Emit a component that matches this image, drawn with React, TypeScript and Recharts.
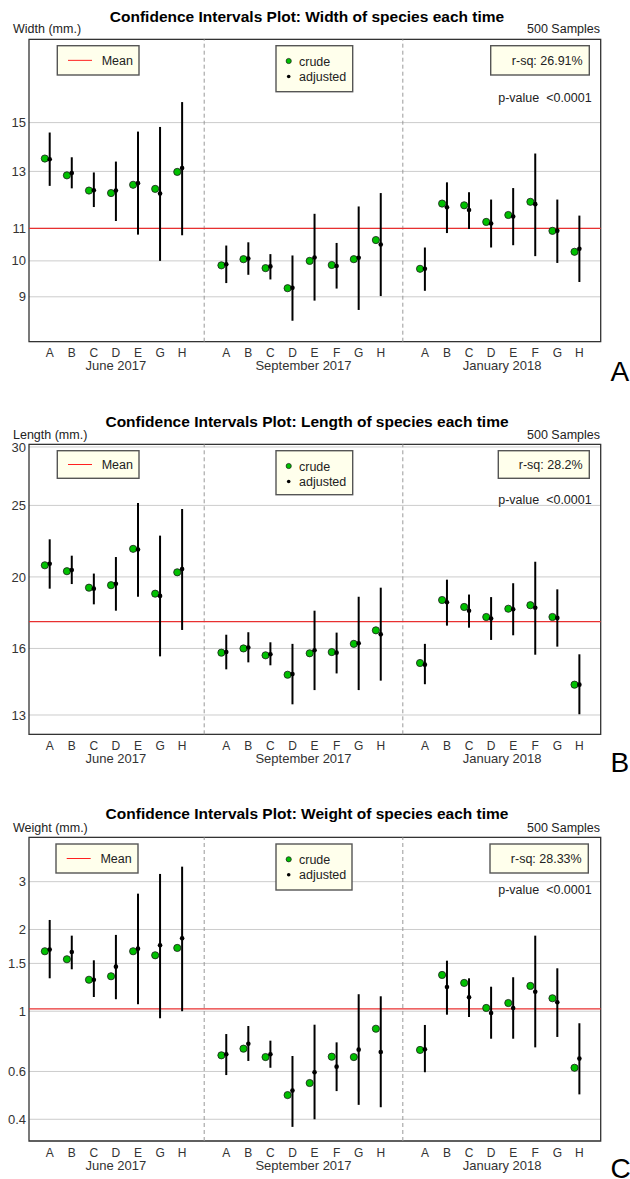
import React from 'react';
import { ScatterChart, Scatter, XAxis, YAxis, CartesianGrid, ReferenceLine, ReferenceArea, ErrorBar } from 'recharts';

// ---------- categories ----------
const juneCats = ['A', 'B', 'C', 'D', 'E', 'G', 'H'];
const septCats = ['A', 'B', 'C', 'D', 'E', 'F', 'G', 'H'];
const janCats = ['A', 'B', 'C', 'D', 'E', 'F', 'G', 'H'];
const groupLabels = ['June 2017', 'September 2017', 'January 2018'];

// ---------- Width ----------
const widthCrude = [13.5, 12.85, 12.29, 12.2, 12.5, 12.35, 12.98, 9.87, 10.05, 9.79, 9.23, 10.0, 9.88, 10.05, 10.63, 9.77, 11.83, 11.77, 11.21, 11.44, 11.89, 10.92, 10.27];
const widthAdj = [13.47, 12.94, 12.3, 12.29, 12.56, 12.18, 13.13, 9.9, 10.07, 9.84, 9.24, 10.1, 9.85, 10.09, 10.49, 9.77, 11.7, 11.61, 11.16, 11.39, 11.81, 10.92, 10.36];
const widthLow = [12.46, 12.37, 11.71, 11.24, 10.8, 10.0, 10.78, 9.37, 9.6, 9.47, 8.39, 8.9, 9.22, 8.66, 9.02, 9.16, 10.85, 10.98, 10.4, 10.47, 10.14, 9.94, 9.4];
const widthHigh = [14.57, 13.55, 12.96, 13.38, 14.61, 14.81, 15.93, 10.46, 10.56, 10.2, 10.16, 11.48, 10.54, 11.73, 12.2, 10.4, 12.59, 12.23, 11.97, 12.38, 13.7, 11.97, 11.42];
const widthTicks = [9, 10, 11, 13, 15];
const widthMean = 11;

// ---------- Length ----------
const lengthCrude = [20.74, 20.36, 19.34, 19.49, 21.83, 18.98, 20.29, 15.79, 16.0, 15.66, 14.74, 15.76, 15.82, 16.23, 16.93, 15.29, 18.61, 18.21, 17.65, 18.11, 18.31, 17.65, 14.29];
const lengthAdj = [20.84, 20.44, 19.28, 19.58, 21.79, 18.85, 20.5, 15.82, 16.05, 15.71, 14.77, 15.91, 15.79, 16.26, 16.72, 15.21, 18.48, 18.0, 17.56, 18.08, 18.17, 17.6, 14.29];
const lengthLow = [19.28, 19.56, 18.36, 18.0, 18.8, 15.61, 16.95, 14.99, 15.32, 15.18, 13.44, 14.05, 14.8, 14.05, 14.47, 14.31, 17.18, 17.07, 16.43, 16.67, 15.69, 16.09, 13.03];
const lengthHigh = [22.49, 21.37, 20.21, 21.28, 25.19, 22.75, 24.72, 16.7, 16.83, 16.31, 16.23, 18.0, 16.81, 18.8, 19.34, 16.23, 19.83, 18.93, 18.78, 19.61, 20.97, 19.24, 15.71];
const lengthTicks = [13, 16, 20, 25, 30];
const lengthMean = 17.4;

// ---------- Weight ----------
const weightCrude = [1.663, 1.554, 1.306, 1.345, 1.663, 1.607, 1.71, 0.688, 0.728, 0.678, 0.491, 0.544, 0.68, 0.678, 0.862, 0.72, 1.36, 1.271, 1.028, 1.072, 1.239, 1.116, 0.619];
const weightAdj = [1.686, 1.653, 1.306, 1.459, 1.7, 1.749, 1.856, 0.694, 0.759, 0.694, 0.51, 0.596, 0.625, 0.722, 0.708, 0.724, 1.228, 1.125, 0.985, 1.028, 1.18, 1.079, 0.669];
const weightLow = [1.322, 1.427, 1.128, 1.107, 1.061, 0.942, 1.0, 0.582, 0.656, 0.619, 0.375, 0.4, 0.508, 0.452, 0.443, 0.596, 0.971, 0.952, 0.792, 0.792, 0.736, 0.804, 0.494];
const weightHigh = [2.168, 1.898, 1.54, 1.91, 2.71, 3.203, 3.407, 0.824, 0.882, 0.779, 0.684, 0.892, 0.768, 1.155, 1.135, 0.89, 1.535, 1.322, 1.231, 1.334, 1.898, 1.439, 0.903];
const weightTicks = [0.4, 0.6, 1, 1.5, 2, 3];
const weightMean = 1.02;

// ---------- derived positions ----------
const groups = [juneCats, septCats, janCats];
const positions: number[] = [];
const letters: string[] = [];
const groupCenters: number[] = [];
const separators: number[] = [];
{
  let p = 0;
  groups.forEach((g, gi) => {
    const start = p;
    g.forEach((c) => {
      positions.push(p);
      letters.push(c);
      p += 1;
    });
    groupCenters.push((start + p - 1) / 2);
    if (gi < groups.length - 1) separators.push(p);
    p += 1;
  });
}
const letterAt: Record<string, string> = {};
positions.forEach((p, i) => (letterAt[String(p)] = letters[i]));
const groupAt: Record<string, string> = {};
groupCenters.forEach((c, i) => (groupAt[String(c)] = groupLabels[i]));

const X_DOMAIN: [number, number] = [-0.938, 24.966];
const FONT = 'Liberation Sans, Arial, Helvetica, sans-serif';
const CRUDE_DODGE = 0.22;

type PanelCfg = {
  top: number;
  height: number;
  marginTop: number;
  marginBottom: number;
  domain: [number, number];
  ticks: number[];
  mean: number;
  crude: number[];
  adj: number[];
  low: number[];
  high: number[];
};

const GreenDot = (p: any) => <circle cx={p.cx} cy={p.cy} r={3.6} fill="#00c000" stroke="#1a1a1a" strokeWidth={0.8} />;
const BlackDot = (p: any) => <circle cx={p.cx} cy={p.cy} r={2.3} fill="#000" />;

function Panel({ cfg }: { cfg: PanelCfg }) {
  const crudeRows = positions.map((x, i) => ({ x: x - CRUDE_DODGE, y: cfg.crude[i] }));
  const adjRows = positions.map((x, i) => ({
    x,
    y: cfg.adj[i],
    err: [cfg.adj[i] - cfg.low[i], cfg.high[i] - cfg.adj[i]],
  }));
  return (
    <div style={{ position: 'absolute', left: 0, top: cfg.top, width: 630, height: cfg.height }}>
      <ScatterChart
        width={630}
        height={cfg.height}
        margin={{ top: cfg.marginTop, right: 29.3, bottom: cfg.marginBottom, left: 0 }}
        style={{ fontFamily: FONT }}
      >
        <CartesianGrid vertical={false} stroke="#cccccc" strokeWidth={1} />
        <XAxis
          type="number"
          dataKey="x"
          domain={X_DOMAIN}
          allowDataOverflow
          ticks={positions}
          interval={0}
          tickFormatter={(v: number) => letterAt[String(v)] ?? ''}
          axisLine={false}
          tickLine={false}
          tickSize={0}
          tickMargin={7}
          height={13}
          tick={{ fontSize: 12, fill: '#333', fontFamily: FONT }}
        />
        <XAxis
          xAxisId="g"
          type="number"
          dataKey="x"
          domain={X_DOMAIN}
          allowDataOverflow
          ticks={groupCenters}
          interval={0}
          tickFormatter={(v: number) => groupAt[String(v)] ?? ''}
          axisLine={false}
          tickLine={false}
          tickSize={0}
          tickMargin={6.5}
          height={20}
          tick={{ fontSize: 13, fill: '#333', fontFamily: FONT }}
        />
        <YAxis
          type="number"
          dataKey="y"
          scale="log"
          domain={cfg.domain}
          allowDataOverflow
          ticks={cfg.ticks}
          interval={0}
          tickFormatter={(v: number) => String(v)}
          width={29}
          axisLine={false}
          tickLine={false}
          tickSize={0}
          tickMargin={3}
          tick={{ fontSize: 13, fill: '#333', fontFamily: FONT }}
        />
        {separators.map((s) => (
          <ReferenceLine key={s} x={s} stroke="#999" strokeDasharray="4 3" strokeWidth={1} />
        ))}
        <ReferenceLine y={cfg.mean} stroke="#e83030" strokeWidth={1.2} />
        <Scatter data={crudeRows} isAnimationActive={false} shape={GreenDot} />
        <Scatter data={adjRows} isAnimationActive={false} shape={BlackDot}>
          <ErrorBar dataKey="err" direction="y" width={0} strokeWidth={2} stroke="#000" />
        </Scatter>
        <ReferenceArea
          x1={X_DOMAIN[0]}
          x2={X_DOMAIN[1]}
          y1={cfg.domain[0]}
          y2={cfg.domain[1]}
          fill="none"
          fillOpacity={0}
          stroke="#333"
          strokeWidth={1.3}
          ifOverflow="visible"
        />
      </ScatterChart>
    </div>
  );
}

const panels: PanelCfg[] = [
  { top: 0, height: 400, marginTop: 39.3, marginBottom: 25.3, domain: [7.89, 19.15], ticks: widthTicks, mean: widthMean, crude: widthCrude, adj: widthAdj, low: widthLow, high: widthHigh },
  { top: 400, height: 390, marginTop: 44.3, marginBottom: 22.7, domain: [12.24, 30.25], ticks: lengthTicks, mean: lengthMean, crude: lengthCrude, adj: lengthAdj, low: lengthLow, high: lengthHigh },
  { top: 790, height: 389, marginTop: 47.3, marginBottom: 5, domain: [0.3327, 4.37], ticks: weightTicks, mean: weightMean, crude: weightCrude, adj: weightAdj, low: weightLow, high: weightHigh },
];

type Box = [number, number, number, number];
type Overlay = {
  title: string;
  yLabel: string;
  rsq: string;
  letter: string;
  titleY: number;
  labelY: number;
  meanBox: Box;
  crudeBox: Box;
  rsqBox: Box;
  pY: number;
  letterY: number;
};

const overlays: Overlay[] = [
  { title: 'Confidence Intervals Plot: Width of species each time', yLabel: 'Width (mm.)', rsq: 'r-sq: 26.91%', letter: 'A', titleY: 21.5, labelY: 33.3, meanBox: [57.3, 45.7, 81.7, 29.3], crudeBox: [276, 45.7, 76.7, 46], rsqBox: [490.7, 45.7, 98.6, 29.3], pY: 102.4, letterY: 381 },
  { title: 'Confidence Intervals Plot: Length of species each time', yLabel: 'Length (mm.)', rsq: 'r-sq: 28.2%', letter: 'B', titleY: 426.7, labelY: 439, meanBox: [57.3, 450.7, 81.7, 27.6], crudeBox: [276, 450.7, 76.7, 44], rsqBox: [498.3, 450.7, 91, 27.6], pY: 504, letterY: 772 },
  { title: 'Confidence Intervals Plot: Weight of species each time', yLabel: 'Weight (mm.)', rsq: 'r-sq: 28.33%', letter: 'C', titleY: 819, labelY: 831.5, meanBox: [56, 844, 82, 29], crudeBox: [276, 844, 76, 46], rsqBox: [490, 844, 98.3, 29], pY: 893.5, letterY: 1178 },
];

const BOX_FILL = '#ffffec';
const BOX_STROKE = '#555';

function OverlayLayer() {
  return (
    <svg width={630} height={1179} style={{ position: 'absolute', left: 0, top: 0, pointerEvents: 'none' }} fontFamily={FONT}>
      {overlays.map((o, i) => {
        const [mx, my, mw, mh] = o.meanBox;
        const [cx, cy, cw, ch] = o.crudeBox;
        const [rx, ry, rw, rh] = o.rsqBox;
        const mc = my + mh / 2;
        return (
          <g key={i}>
            <text x={307} y={o.titleY} textAnchor="middle" fontSize={15.5} fontWeight="bold" fill="#000">{o.title}</text>
            <text x={13} y={o.labelY} fontSize={12.5} fill="#222">{o.yLabel}</text>
            <text x={600} y={o.labelY} textAnchor="end" fontSize={12.5} fill="#222">500 Samples</text>
            <rect x={mx} y={my} width={mw} height={mh} fill={BOX_FILL} stroke={BOX_STROKE} strokeWidth={1.4} />
            <line x1={mx + 10.7} x2={mx + 34.7} y1={mc} y2={mc} stroke="#ff2020" strokeWidth={1} />
            <text x={mx + 44.4} y={mc + 4.5} fontSize={12.5} fill="#222">Mean</text>
            <rect x={cx} y={cy} width={cw} height={ch} fill={BOX_FILL} stroke={BOX_STROKE} strokeWidth={1.4} />
            <circle cx={cx + 12.7} cy={cy + 15.3} r={2.6} fill="#00c000" stroke="#1a1a1a" strokeWidth={0.7} />
            <circle cx={cx + 12.7} cy={cy + 30.8} r={1.8} fill="#000" />
            <text x={cx + 23} y={cy + 19.8} fontSize={12.5} fill="#222">crude</text>
            <text x={cx + 23} y={cy + 35.3} fontSize={12.5} fill="#222">adjusted</text>
            <rect x={rx} y={ry} width={rw} height={rh} fill={BOX_FILL} stroke={BOX_STROKE} strokeWidth={1.4} />
            <text x={rx + rw - 6.6} y={ry + rh / 2 + 4.5} textAnchor="end" fontSize={12.5} fill="#222">{o.rsq}</text>
            <text x={591.7} y={o.pY} textAnchor="end" fontSize={12.5} fill="#222" style={{ whiteSpace: 'pre' }}>{'p-value  <0.0001'}</text>
            <text x={610.5} y={o.letterY} fontSize={28} fill="#000">{o.letter}</text>
          </g>
        );
      })}
    </svg>
  );
}

export default function App() {
  return (
    <div style={{ position: 'absolute', left: 0, top: 0, width: 630, height: 1179, background: '#fff', overflow: 'hidden' }}>
      {panels.map((p, i) => (
        <Panel key={i} cfg={p} />
      ))}
      <OverlayLayer />
    </div>
  );
}
